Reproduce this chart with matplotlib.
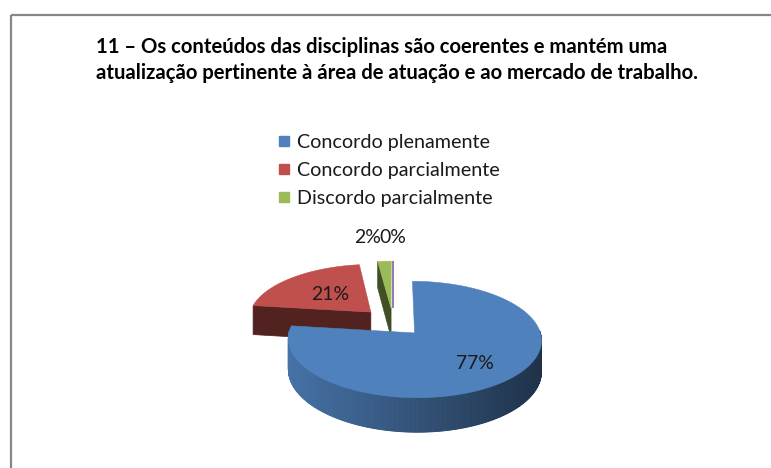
import numpy as np
import matplotlib
matplotlib.use("Agg")
import matplotlib.pyplot as plt
from matplotlib.patches import Polygon, Rectangle
from matplotlib.lines import Line2D
from matplotlib.colors import to_rgb

# ---- data ----
categories = ["Concordo plenamente", "Concordo parcialmente", "Discordo parcialmente", "Discordo plenamente"]
values = [77, 21, 2, 0]
value_labels = ["77%", "21%", "2%", "0%"]
legend_count = 3
title_lines = ["11 \u2013 Os conte\u00fados das disciplinas s\u00e3o coerentes e mant\u00e9m uma",
               "atualiza\u00e7\u00e3o pertinente \u00e0 \u00e1rea de atua\u00e7\u00e3o e ao mercado de trabalho."]
colors = ["#4F81BD", "#C0504D", "#9BBB59", "#8064A2"]

W, H = 771, 468
fig = plt.figure(figsize=(W / 100, H / 100), dpi=100)
ax = fig.add_axes([0, 0, 1, 1])
ax.set_xlim(0, W)
ax.set_ylim(H, 0)
ax.axis("off")
FONT = ["Lato", "DejaVu Sans"]

renderer = fig.canvas.get_renderer()

def fit_size(text, width_px, weight="normal", base=12):
    t = ax.text(0, 0, text, fontsize=base, family=FONT, fontweight=weight)
    w = t.get_window_extent(renderer=renderer).width
    t.remove()
    return base * width_px / w

# frame
ax.add_patch(Rectangle((10.5, 14.5), 900, 600, fill=False, edgecolor="#878787", lw=1.6))

# title
tsize = fit_size(title_lines[1], 598, weight="bold")
ax.text(96, 53, title_lines[0], fontsize=tsize, family=FONT, fontweight="bold",
        ha="left", va="baseline", color="#000000")
ax.text(96, 79, title_lines[1], fontsize=tsize, family=FONT, fontweight="bold",
        ha="left", va="baseline", color="#000000")

# ---- 3D pie geometry (simple perspective projection) ----
x0, y0 = 393, 322       # screen position of pie centre
A, B = 123, 55          # horizontal / depth scale (px per radius)
D = 30                  # thickness (px)
k = 0.11                # perspective strength
explode = 0.26

def proj(X, Yd, zn=0.0):
    w = 1 + k * Yd
    return (x0 + A * X / w, y0 - (B * Yd + D * zn) / w)

total = float(sum(values))
frac = np.array(values) / total
hi = 90 - 360 * np.concatenate([[0], np.cumsum(frac)[:-1]])
lo = hi - 360 * frac
mid = (hi + lo) / 2

def shade(c, f):
    r, g, bb = to_rgb(c)
    return (r * f, g * f, bb * f)

centres = [(explode * np.cos(np.radians(m)), explode * np.sin(np.radians(m))) for m in mid]

def rim(i, t_deg, zn=0.0):
    cxw, cyw = centres[i]
    t = np.radians(t_deg)
    return proj(cxw + np.cos(t), cyw + np.sin(t), zn)

order = np.argsort([-c[1] for c in centres])   # back to front
xmin_all, xmax_all = x0 - A, x0 + A + 40

for i in order:
    cxw, cyw = centres[i]
    col = colors[i]
    tip_t = proj(cxw, cyw, 0)
    tip_b = proj(cxw, cyw, -1)
    # radial walls
    for t_edge, normal in ((hi[i], hi[i] + 90), (lo[i], lo[i] - 90)):
        if np.sin(np.radians(normal)) < -1e-6 and values[i] > 0:
            quad = [tip_t, rim(i, t_edge), rim(i, t_edge, -1), tip_b]
            ax.add_patch(Polygon(quad, closed=True, facecolor=shade(col, 0.42),
                                 edgecolor=shade(col, 0.42), lw=0.5, zorder=2))
    # outer wall
    if values[i] > 0:
        ts = np.linspace(lo[i], hi[i], max(int(abs(hi[i] - lo[i])) * 2, 2))
        for j in range(len(ts) - 1):
            tm = (ts[j] + ts[j + 1]) / 2
            if np.sin(np.radians(tm)) < 0.05:
                q = [rim(i, ts[j]), rim(i, ts[j + 1]), rim(i, ts[j + 1], -1), rim(i, ts[j], -1)]
                xm = rim(i, tm)[0]
                f = 0.92 - 0.56 * (xm - xmin_all) / (xmax_all - xmin_all)
                f = min(max(f, 0.38), 0.92)
                ax.add_patch(Polygon(q, closed=True, facecolor=shade(col, f),
                                     edgecolor=shade(col, f), lw=0.6, zorder=2))
    # top face
    ts = np.linspace(lo[i], hi[i], max(int(abs(hi[i] - lo[i])) * 2, 2))
    poly = [tip_t] + [rim(i, t) for t in ts]
    ax.add_patch(Polygon(poly, closed=True, facecolor=col, edgecolor=col,
                         lw=1.2 if values[i] == 0 else 0.4, zorder=3))

# value labels
lab_r = [0.67, 0.5, 1.6, 1.6]
lab_ha = ["center", "center", "right", "center"]
lsize = fit_size("77%", 38)
for i in range(len(values)):
    cxw, cyw = centres[i]
    r = np.radians(mid[i])
    lx, ly = proj(cxw + lab_r[i] * np.cos(r), cyw + lab_r[i] * np.sin(r))
    ax.text(lx, ly, value_labels[i], fontsize=lsize, family=FONT, ha=lab_ha[i],
            va="center", color="#1a1a1a", zorder=5)

# legend
gsize = fit_size(categories[0], 192)
handles = [Line2D([], [], ls="none", marker="s", markersize=7.2, markerfacecolor=colors[i],
                  markeredgecolor=colors[i]) for i in range(legend_count)]
leg = ax.legend(handles, categories[:legend_count], loc="upper left",
                bbox_to_anchor=(278 / W, 1 - 134 / H), frameon=False,
                prop={"family": FONT, "size": gsize}, handlelength=0.6,
                handletextpad=0.35, labelspacing=0.56, borderaxespad=0, borderpad=0)
for t in leg.get_texts():
    t.set_color("#1a1a1a")

fig.savefig("out.png", dpi=100)
